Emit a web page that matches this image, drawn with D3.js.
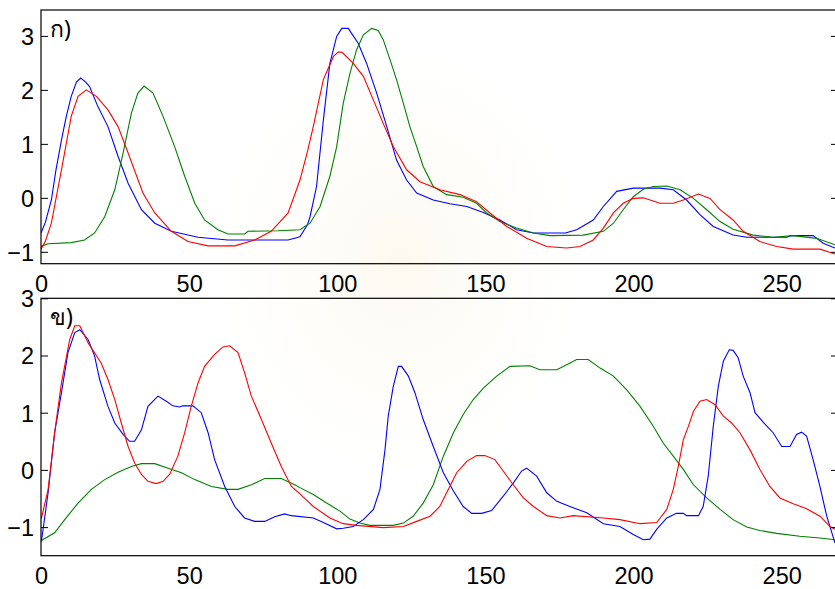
<!DOCTYPE html>
<html>
<head>
<meta charset="utf-8">
<script src="https://cdn.jsdelivr.net/npm/d3@7"></script>
<style>
  body { margin: 0; background: #fff; }
  svg { display: block; }
  .tick-label { font-family: "Liberation Sans", Arial, sans-serif; font-size: 23.5px; fill: #000; }
  .panel-label { font-family: "Noto Sans", "DejaVu Sans", "Liberation Sans", sans-serif; font-size: 23px; fill: #000; }
</style>
</head>
<body>
<div id="chart"></div>
<script>
// ข้อมูล (x, ค่า) อ่านจากภาพ
const xTicks = [0, 50, 100, 150, 200, 250];
const yTicks = [-1, 0, 1, 2, 3];

const topBlue = [[0,-0.65],[1.5,-0.45],[3.5,-0.04],[5,0.5],[6.9,1.07],[8.5,1.5],[10.2,1.88],[12,2.15],[13.4,2.22],[15,2.15],[16.4,2.06],[19.2,1.69],[22.6,1.32],[26,0.77],[29.4,0.27],[33.9,-0.22],[38.4,-0.47],[44,-0.62],[53,-0.73],[63.1,-0.78],[83.4,-0.78],[87.4,-0.72],[89.9,-0.5],[90.8,-0.35],[93,0.21],[95.3,1.44],[97.5,2.49],[99.8,2.99],[101.5,3.14],[103.7,3.14],[107.1,2.86],[109.9,2.49],[113.3,1.94],[116.7,1.32],[120,0.70],[123.4,0.33],[126.8,0.09],[132.4,-0.04],[138,-0.11],[143.7,-0.16],[149.3,-0.27],[154.9,-0.41],[160.5,-0.59],[166.2,-0.65],[177,-0.65],[180.8,-0.59],[186.4,-0.41],[189.8,-0.16],[194.3,0.12],[199.9,0.18],[208.9,0.18],[213.4,0.15],[217.9,-0.04],[222.4,-0.31],[226.9,-0.53],[233.6,-0.69],[238.2,-0.73],[251.7,-0.73],[253,-0.70],[260.6,-0.70],[264,-0.84],[268,-0.93]];
const topRed = [[0,-0.95],[1.5,-0.8],[3.5,-0.47],[6.9,0.52],[10.2,1.51],[12.5,1.88],[15.3,2.0],[18.7,1.88],[22.6,1.63],[26,1.32],[29.4,0.83],[34.4,0.09],[38.4,-0.28],[44,-0.62],[49.6,-0.81],[56.4,-0.89],[65.4,-0.89],[72.1,-0.78],[77.7,-0.62],[83.4,-0.28],[87.4,0.33],[89.9,0.85],[91.9,1.32],[95.3,2.19],[98.7,2.62],[100.3,2.70],[101.5,2.70],[105.4,2.49],[108.8,2.25],[112.2,1.81],[115.5,1.38],[118.9,0.95],[123.4,0.52],[127.9,0.30],[134.6,0.15],[141.4,0.06],[147,-0.07],[151.5,-0.28],[157.2,-0.53],[163.9,-0.75],[170.7,-0.90],[177.4,-0.93],[181.9,-0.90],[186.4,-0.78],[189.8,-0.56],[193.2,-0.28],[196.5,-0.10],[199.9,-0.01],[203.3,0.0],[208.9,-0.10],[213.4,-0.10],[216.8,-0.04],[221.9,0.07],[225.8,-0.01],[229.2,-0.22],[233.6,-0.41],[237,-0.62],[242.6,-0.81],[248.3,-0.90],[253.9,-0.95],[262.9,-0.95],[268,-1.04]];
const topGreen = [[0,-0.9],[2.4,-0.85],[10.2,-0.83],[14.7,-0.78],[18.1,-0.65],[21.5,-0.35],[24.9,0.15],[27.7,0.83],[30.5,1.57],[32.7,1.94],[34.8,2.07],[37.8,1.94],[41.2,1.51],[45.1,0.95],[48.5,0.40],[51.9,-0.10],[55.2,-0.41],[59.7,-0.59],[63.1,-0.67],[68.7,-0.67],[69.9,-0.62],[80,-0.61],[87.4,-0.59],[90.8,-0.47],[94.2,-0.16],[97.5,0.40],[99.8,0.95],[102,1.75],[104.3,2.31],[106.5,2.74],[108.8,3.02],[111.6,3.14],[113.8,3.10],[115.5,2.93],[117.8,2.56],[120,2.19],[122.3,1.75],[124.5,1.32],[126.8,0.95],[129,0.58],[132.4,0.21],[136.9,0.06],[142.5,0.01],[147,-0.10],[150.4,-0.28],[154.9,-0.44],[160.5,-0.56],[166.2,-0.65],[171.8,-0.70],[183,-0.69],[189.8,-0.62],[193.2,-0.47],[196.5,-0.22],[199.9,0.02],[203.3,0.16],[206.7,0.21],[211.2,0.22],[215.7,0.15],[220.2,-0.01],[224.7,-0.22],[229.2,-0.44],[233.6,-0.58],[240.4,-0.69],[247.1,-0.73],[253.9,-0.70],[261.8,-0.75],[268,-0.87]];

const bottomBlue = [[0,-1.25],[0.3,-1.19],[2.4,-0.40],[4.6,0.65],[6.9,1.35],[9.1,2.05],[11.4,2.40],[13.1,2.45],[15.9,2.28],[18.1,1.99],[19.8,1.58],[22.6,1.11],[24.9,0.82],[27.7,0.62],[29.9,0.50],[31.6,0.50],[33.9,0.70],[36.1,1.11],[39.5,1.29],[42.3,1.20],[44.5,1.12],[46.8,1.10],[47.9,1.12],[51.3,1.12],[54.1,1.0],[56.4,0.65],[58.6,0.18],[62,-0.29],[65.4,-0.64],[68.7,-0.84],[72.1,-0.90],[75.5,-0.90],[78.9,-0.82],[82.2,-0.77],[84.5,-0.80],[91.9,-0.84],[95.3,-0.92],[99.8,-1.03],[102,-1.02],[105.4,-0.99],[108.8,-0.87],[112.2,-0.69],[114.4,-0.34],[116.1,0.35],[117.2,0.94],[118.9,1.46],[120.6,1.81],[121.7,1.81],[124,1.64],[126.2,1.35],[129,0.88],[132.4,0.41],[135.8,-0.05],[139.2,-0.37],[142.5,-0.64],[145.4,-0.76],[148.7,-0.76],[152.1,-0.71],[156,-0.46],[159.4,-0.23],[162.2,-0.02],[163.9,0.03],[167.3,-0.11],[170.7,-0.40],[174.1,-0.55],[178.5,-0.64],[184.2,-0.75],[189.8,-0.94],[195.4,-0.99],[199.9,-1.13],[203.3,-1.22],[205.5,-1.21],[207.8,-1.04],[211.2,-0.84],[214.5,-0.76],[216.8,-0.76],[217.9,-0.80],[221.9,-0.80],[223.5,-0.64],[225.2,-0.11],[226.9,0.76],[228.6,1.46],[230.3,1.90],[232.3,2.10],[233.6,2.09],[235.3,1.96],[237,1.64],[239.3,1.35],[241,1.0],[243.8,0.83],[247.1,0.65],[250,0.41],[252.8,0.41],[255,0.62],[256.7,0.66],[258.4,0.59],[260.6,0.18],[262.9,-0.29],[265.2,-0.81],[268,-1.28]];
const bottomRed = [[0,-0.85],[0.3,-0.81],[2.4,-0.34],[4.6,0.65],[6.9,1.52],[9.7,2.28],[11.4,2.52],[13.1,2.52],[15.9,2.22],[20.3,1.87],[22.6,1.58],[24.9,1.23],[27.1,0.82],[29.4,0.41],[31.6,0.12],[33.9,-0.08],[36.1,-0.20],[38.9,-0.24],[41.2,-0.20],[43.4,-0.08],[46.2,0.24],[48.5,0.65],[50.7,1.11],[53,1.52],[55.2,1.81],[58.6,2.02],[61.4,2.15],[63.7,2.17],[66.5,2.05],[68.7,1.70],[71,1.29],[74.4,0.88],[77.7,0.47],[81.1,0.06],[84.5,-0.29],[87.4,-0.42],[90.1,-0.55],[91.9,-0.64],[97.5,-0.84],[102,-0.94],[106.5,-0.97],[115.5,-1.01],[122.3,-0.99],[126.8,-0.90],[131.3,-0.81],[134.6,-0.64],[137.5,-0.34],[140.3,-0.05],[143.7,0.15],[147,0.25],[149.8,0.25],[153.2,0.18],[156,-0.02],[159.4,-0.26],[162.8,-0.49],[166.2,-0.64],[170.7,-0.80],[175.2,-0.84],[179.6,-0.80],[189.8,-0.84],[195.4,-0.87],[202.2,-0.94],[207.8,-0.92],[211.2,-0.69],[213.4,-0.34],[215.1,0.06],[216.8,0.53],[218.5,0.76],[220.2,1.02],[222.4,1.20],[224.7,1.23],[227.5,1.14],[230.3,0.94],[233.1,0.82],[235.9,0.65],[239.3,0.35],[242.6,0.01],[246,-0.29],[249.4,-0.49],[253.9,-0.59],[258.4,-0.68],[262.9,-0.81],[266.3,-0.99],[268,-1.04]];
const bottomGreen = [[0,-1.25],[0.3,-1.23],[4.6,-1.10],[8,-0.87],[12.5,-0.58],[17,-0.34],[21.5,-0.17],[26,-0.04],[30.5,0.06],[33.9,0.11],[38.4,0.11],[42.9,0.03],[47.4,-0.05],[51.9,-0.17],[57.5,-0.29],[63.1,-0.34],[66.5,-0.34],[71,-0.26],[75.5,-0.15],[81.1,-0.15],[85.6,-0.26],[87.4,-0.31],[91.9,-0.43],[96.4,-0.58],[100.9,-0.72],[104.3,-0.86],[107.6,-0.93],[111,-0.97],[118.9,-0.97],[122.3,-0.93],[125.6,-0.81],[129,-0.58],[132.4,-0.26],[135.8,0.24],[139.2,0.65],[142.5,0.97],[145.9,1.23],[149.3,1.43],[153.8,1.64],[158.3,1.81],[165,1.82],[168.4,1.75],[174.1,1.75],[177.4,1.84],[180.8,1.93],[184.7,1.93],[188.7,1.78],[193.2,1.64],[197.7,1.40],[202.2,1.11],[206.7,0.76],[210,0.47],[213.4,0.24],[216.8,0.01],[220.2,-0.26],[224.7,-0.49],[229.2,-0.69],[233.6,-0.87],[238.2,-1.0],[242.6,-1.06],[248.3,-1.11],[256.1,-1.16],[262.9,-1.19],[268,-1.22]];

const width = 835;
const height = 589;

const svg = d3.select("#chart")
    .append("svg")
    .attr("width", width)
    .attr("height", height);

// ลายน้ำจางๆ ด้านหลัง
const defs = svg.append("defs");
const grad = defs.append("radialGradient").attr("id", "wm");
grad.append("stop").attr("offset", "0%").attr("stop-color", "#f6efd6").attr("stop-opacity", 0.4);
grad.append("stop").attr("offset", "100%").attr("stop-color", "#ffffff").attr("stop-opacity", 0);
svg.append("ellipse")
    .attr("cx", 400).attr("cy", 260)
    .attr("rx", 240).attr("ry", 280)
    .attr("fill", "url(#wm)");

const xScale = d3.scaleLinear().domain([0, 269]).range([41, 838]);

const drawPanel = (id, top, bottom, yDomain, series, label) => {
    const yScale = d3.scaleLinear().domain(yDomain).range([bottom, top]);
    const g = svg.append("g");

    defs.append("clipPath").attr("id", "clip" + id)
        .append("rect")
        .attr("x", xScale.range()[0]).attr("y", top)
        .attr("width", xScale.range()[1] - xScale.range()[0])
        .attr("height", bottom - top);

    // เส้นข้อมูล
    const line = d3.line()
        .x(d => xScale(d[0]))
        .y(d => yScale(d[1]));
    g.append("g")
        .attr("clip-path", `url(#clip${id})`)
        .selectAll("path")
        .data(series)
        .enter()
        .append("path")
        .attr("d", d => line(d.values))
        .attr("fill", "none")
        .attr("stroke", d => d.color)
        .attr("stroke-width", 1.1);

    // แกนทั้งสี่ด้าน (tick ชี้เข้าด้านใน)
    g.append("g")
        .attr("transform", `translate(0, ${bottom})`)
        .call(d3.axisBottom(xScale).tickValues(xTicks).tickSizeInner(-7).tickSizeOuter(0).tickFormat(d3.format("d")))
        .call(a => a.select(".domain").remove())
        .call(a => a.selectAll("text").attr("class", "tick-label").attr("y", 28.5).attr("dy", 0));
    g.append("g")
        .attr("transform", `translate(0, ${top})`)
        .call(d3.axisTop(xScale).tickValues(xTicks).tickSizeInner(-7).tickSizeOuter(0).tickFormat(""))
        .call(a => a.select(".domain").remove());
    g.append("g")
        .attr("transform", `translate(${xScale.range()[0]}, 0)`)
        .call(d3.axisLeft(yScale).tickValues(yTicks).tickSizeInner(-7).tickSizeOuter(0).tickFormat(d3.format("d")))
        .call(a => a.select(".domain").remove())
        .call(a => a.selectAll("text").attr("class", "tick-label").attr("x", -7).attr("dy", "0.36em"));
    g.append("g")
        .attr("transform", `translate(${xScale.range()[1]}, 0)`)
        .call(d3.axisRight(yScale).tickValues(yTicks).tickSizeInner(-7).tickSizeOuter(0).tickFormat(""))
        .call(a => a.select(".domain").remove());
    g.selectAll(".tick line").attr("stroke", "#000");

    // ลบ tick ที่อยู่นอกกรอบ
    g.selectAll(".tick line").filter(function () {
        const t = d3.select(this.parentNode).attr("transform");
        const m = /translate\(([-\d.]+),([-\d.]+)\)/.exec(t);
        return m && (+m[2] < top - 0.5 || (+m[2] > bottom + 0.5));
    }).remove();

    // กรอบ
    g.append("rect")
        .attr("x", xScale.range()[0]).attr("y", top)
        .attr("width", xScale.range()[1] - xScale.range()[0])
        .attr("height", bottom - top)
        .attr("fill", "none")
        .attr("stroke", "#000")
        .attr("stroke-width", 1.2);

    g.append("text")
        .attr("class", "panel-label")
        .attr("x", 50)
        .attr("y", top + 27)
        .text(label);
};

drawPanel("a", 10, 263.7, [-1.22, 3.48], [
    { color: "#0000ff", values: topBlue },
    { color: "#008000", values: topGreen },
    { color: "#ff0000", values: topRed }
], "ก)");

drawPanel("b", 298.3, 555.7, [-1.5, 3.0], [
    { color: "#008000", values: bottomGreen },
    { color: "#0000ff", values: bottomBlue },
    { color: "#ff0000", values: bottomRed }
], "ข)");
</script>
</body>
</html>
